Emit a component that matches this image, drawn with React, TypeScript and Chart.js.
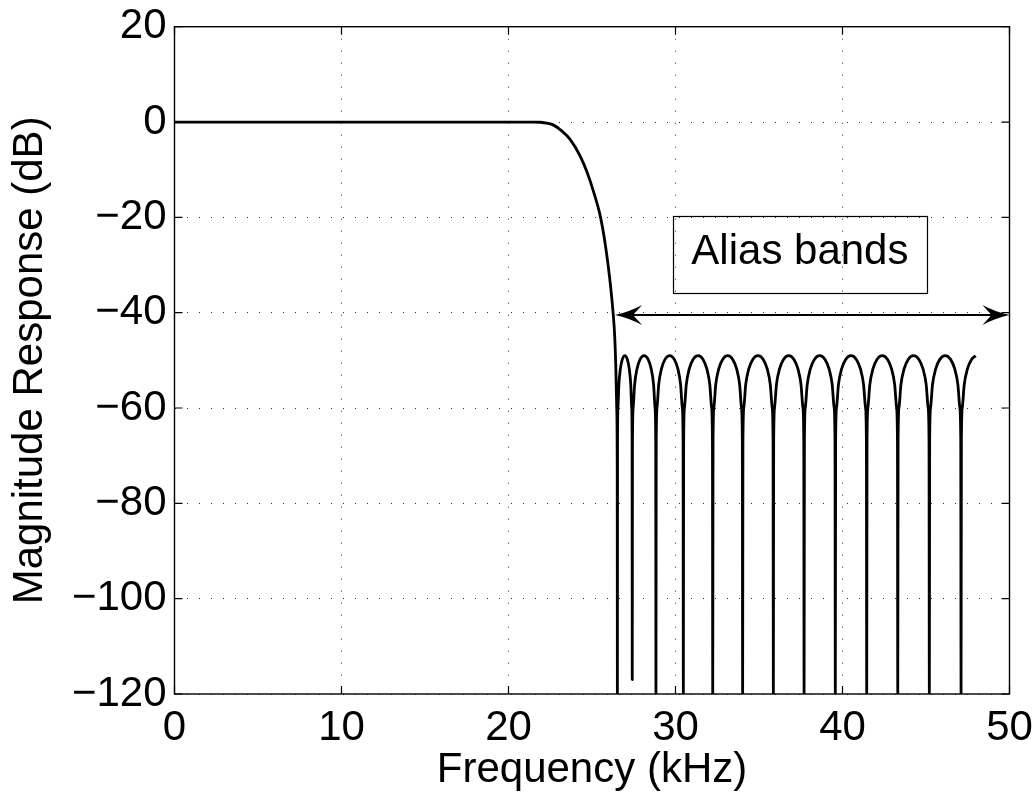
import React, { useEffect, useRef } from "react";
import { Chart, registerables } from "chart.js";

Chart.register(...registerables);

// ---- Data ----
const freqKHz: number[] = [
  0, 5, 10, 15, 20, 21, 21.5, 21.9, 22.3, 22.7, 23.2, 23.7, 24.3, 24.7, 25.1, 25.5, 25.8, 26.05, 26.25, 26.36, 26.43, 26.48, 26.51, 26.52,
  26.529, 26.556, 26.609, 26.698, 26.814, 26.965, 27.116, 27.232, 27.321, 27.374, 27.401, 27.41,
  27.424, 27.467, 27.552, 27.694, 27.879, 28.12, 28.361, 28.546, 28.688, 28.773, 28.816, 28.83,
  28.846, 28.896, 28.994, 29.158, 29.371, 29.65, 29.929, 30.142, 30.306, 30.404, 30.454, 30.47,
  30.488, 30.54, 30.646, 30.822, 31.051, 31.35, 31.649, 31.878, 32.054, 32.16, 32.212, 32.23,
  32.248, 32.302, 32.409, 32.588, 32.821, 33.125, 33.429, 33.662, 33.841, 33.948, 34.002, 34.02,
  34.038, 34.094, 34.204, 34.388, 34.627, 34.94, 35.253, 35.492, 35.676, 35.786, 35.842, 35.86,
  35.878, 35.934, 36.044, 36.228, 36.467, 36.78, 37.093, 37.332, 37.516, 37.626, 37.682, 37.7,
  37.719, 37.775, 37.887, 38.074, 38.317, 38.635, 38.953, 39.196, 39.383, 39.495, 39.551, 39.57,
  39.589, 39.645, 39.758, 39.946, 40.19, 40.51, 40.83, 41.074, 41.262, 41.375, 41.431, 41.45,
  41.469, 41.524, 41.636, 41.822, 42.064, 42.38, 42.696, 42.938, 43.124, 43.236, 43.291, 43.31,
  43.329, 43.386, 43.499, 43.688, 43.934, 44.255, 44.576, 44.822, 45.011, 45.124, 45.181, 45.2,
  45.219, 45.276, 45.39, 45.58, 45.827, 46.15, 46.473, 46.72, 46.91, 47.024, 47.081, 47.1,
  47.119, 47.176, 47.29, 47.48, 47.727, 47.98,
];

const magnitudeDb: number[] = [
  0, 0, 0, 0, 0, 0, 0, -0.05, -0.25, -0.65, -1.9, -3.7, -7.2, -10.5, -14.7, -19.8, -25.8, -32.5, -39.5, -45, -52, -60, -72, -120,
  -67, -59.8, -55.1, -51.8, -49.8, -49.0, -49.8, -51.8, -55.1, -59.8, -67, -117,
  -67, -59.8, -55.1, -51.8, -49.8, -49.0, -49.8, -51.8, -55.1, -59.8, -67, -120,
  -67, -59.8, -55.1, -51.8, -49.8, -49.0, -49.8, -51.8, -55.1, -59.8, -67, -120,
  -67, -59.8, -55.1, -51.8, -49.8, -49.0, -49.8, -51.8, -55.1, -59.8, -67, -120,
  -67, -59.8, -55.1, -51.8, -49.8, -49.0, -49.8, -51.8, -55.1, -59.8, -67, -120,
  -67, -59.8, -55.1, -51.8, -49.8, -49.0, -49.8, -51.8, -55.1, -59.8, -67, -120,
  -67, -59.8, -55.1, -51.8, -49.8, -49.0, -49.8, -51.8, -55.1, -59.8, -67, -120,
  -67, -59.8, -55.1, -51.8, -49.8, -49.0, -49.8, -51.8, -55.1, -59.8, -67, -120,
  -67, -59.8, -55.1, -51.8, -49.8, -49.0, -49.8, -51.8, -55.1, -59.8, -67, -120,
  -67, -59.8, -55.1, -51.8, -49.8, -49.0, -49.8, -51.8, -55.1, -59.8, -67, -120,
  -67, -59.8, -55.1, -51.8, -49.8, -49.0, -49.8, -51.8, -55.1, -59.8, -67, -120,
  -67, -59.8, -55.1, -51.8, -49.8, -49.0, -49.8, -51.8, -55.1, -59.8, -67, -120,
  -67, -59.8, -55.1, -51.8, -49.8, -49.05,
];

const xTickValues: number[] = [0, 10, 20, 30, 40, 50];
const yTickValues: number[] = [-120, -100, -80, -60, -40, -20, 0, 20];

const xAxisTitle = "Frequency (kHz)";
const yAxisTitle = "Magnitude Response (dB)";

// Annotation (in data units)
const arrowFromKHz = 26.38;
const arrowToKHz = 50;
const arrowLevelDb = -40.5;
const boxLabel = "Alias bands";
const boxKHzRange: number[] = [29.85, 45.05];
const boxDbRange: number[] = [-19.7, -35.9];
const boxLabelBaselineDb = -29.8;

const FONT_FAMILY = '"Liberation Sans", Arial, Helvetica, sans-serif';
const FONT_SIZE = 42;

const overlayPlugin = {
  id: "overlay",
  afterDatasetsDraw(chart: any) {
    const { ctx, chartArea, scales } = chart;
    const { left, right, top, bottom } = chartArea;
    const xs = scales.x;
    const ys = scales.y;
    ctx.save();

    // Double-headed arrow
    const ay = ys.getPixelForValue(arrowLevelDb);
    const ax1 = xs.getPixelForValue(arrowFromKHz);
    const ax2 = xs.getPixelForValue(arrowToKHz);
    ctx.strokeStyle = "#000";
    ctx.fillStyle = "#000";
    ctx.lineWidth = 2;
    ctx.beginPath();
    ctx.moveTo(ax1 + 12, ay);
    ctx.lineTo(ax2 - 12, ay);
    ctx.stroke();
    const head = (tip: number, dir: number) => {
      ctx.beginPath();
      ctx.moveTo(tip, ay);
      ctx.quadraticCurveTo(tip - dir * 14, ay - 3, tip - dir * 27, ay - 10);
      ctx.lineTo(tip - dir * 18, ay);
      ctx.lineTo(tip - dir * 27, ay + 10);
      ctx.quadraticCurveTo(tip - dir * 14, ay + 3, tip, ay);
      ctx.closePath();
      ctx.fill();
    };
    head(ax1, -1);
    head(ax2, 1);

    // Text box
    const bx1 = xs.getPixelForValue(boxKHzRange[0]);
    const bx2 = xs.getPixelForValue(boxKHzRange[1]);
    const by1 = ys.getPixelForValue(boxDbRange[0]);
    const by2 = ys.getPixelForValue(boxDbRange[1]);
    ctx.lineWidth = 1.2;
    ctx.strokeRect(Math.round(bx1) + 0.5, Math.round(by1) + 0.5, Math.round(bx2 - bx1), Math.round(by2 - by1));
    ctx.font = `${FONT_SIZE}px ${FONT_FAMILY}`;
    ctx.textAlign = "center";
    ctx.textBaseline = "alphabetic";
    ctx.fillText(boxLabel, (bx1 + bx2) / 2, ys.getPixelForValue(boxLabelBaselineDb));

    // Frame
    ctx.lineWidth = 1.4;
    ctx.strokeRect(left, top, right - left, bottom - top);

    // Inward ticks on all four sides
    const tl = 8;
    ctx.lineWidth = 1.2;
    ctx.beginPath();
    xTickValues.forEach((v) => {
      const px = xs.getPixelForValue(v);
      ctx.moveTo(px, bottom);
      ctx.lineTo(px, bottom - tl);
      ctx.moveTo(px, top);
      ctx.lineTo(px, top + tl);
    });
    yTickValues.forEach((v) => {
      const py = ys.getPixelForValue(v);
      ctx.moveTo(left, py);
      ctx.lineTo(left + tl, py);
      ctx.moveTo(right, py);
      ctx.lineTo(right - tl, py);
    });
    ctx.stroke();
    ctx.restore();
  },
};

const zeroPad = (s: any) => {
  s.paddingLeft = 0;
  s.paddingRight = 0;
  s.paddingTop = 0;
  s.paddingBottom = 0;
};

export default function App() {
  const canvasRef = useRef<HTMLCanvasElement | null>(null);

  useEffect(() => {
    if (!canvasRef.current) return;
    const font = { family: FONT_FAMILY, size: FONT_SIZE };
    const points = freqKHz.map((f, i) => ({ x: f, y: magnitudeDb[i] }));
    const chart = new Chart(canvasRef.current, {
      type: "line",
      data: {
        datasets: [
          {
            data: points,
            borderColor: "#000",
            borderWidth: 2.8,
            pointRadius: 0,
            fill: false,
            cubicInterpolationMode: "monotone",
            borderJoinStyle: "round",
            clip: 0,
          } as any,
        ],
      },
      options: {
        responsive: false,
        animation: false,
        devicePixelRatio: 1,
        parsing: false as any,
        layout: { padding: { left: 0, top: 26.7, right: 25.5, bottom: 0 } },
        plugins: {
          legend: { display: false },
          tooltip: { enabled: false },
        },
        scales: {
          x: {
            type: "linear",
            min: 0,
            max: 50,
            afterBuildTicks: (s: any) => {
              s.ticks = xTickValues.map((v) => ({ value: v }));
            },
            afterFit: (s: any) => {
              s.height = 102;
              zeroPad(s);
            },
            grid: { color: "#333", lineWidth: 1, drawTicks: false },
            border: { display: false, dash: [1, 11] },
            ticks: {
              padding: 9,
              font,
              color: "#000",
              maxRotation: 0,
              autoSkip: false,
              callback: (v: any) => String(v),
            },
            title: {
              display: true,
              text: xAxisTitle,
              font,
              color: "#000",
              padding: { top: 0, bottom: 0 },
            },
          },
          y: {
            type: "linear",
            min: -120,
            max: 20,
            afterBuildTicks: (s: any) => {
              s.ticks = yTickValues.map((v) => ({ value: v }));
            },
            afterFit: (s: any) => {
              s.width = 174.5;
              zeroPad(s);
            },
            grid: { color: "#333", lineWidth: 1, drawTicks: false },
            border: { display: false, dash: [1, 11] },
            ticks: {
              padding: 8,
              font,
              color: "#000",
              autoSkip: false,
              callback: (v: any) => String(v).replace("-", "\u2212"),
            },
            title: {
              display: true,
              text: yAxisTitle,
              font,
              color: "#000",
              padding: { top: 5, bottom: 0 },
            },
          },
        },
      } as any,
      plugins: [overlayPlugin],
    });
    return () => chart.destroy();
  }, []);

  return (
    <div style={{ position: "fixed", left: 0, top: 0, width: 1035, height: 796, background: "#fff" }}>
      <canvas ref={canvasRef} width={1035} height={796} style={{ display: "block" }} />
    </div>
  );
}
